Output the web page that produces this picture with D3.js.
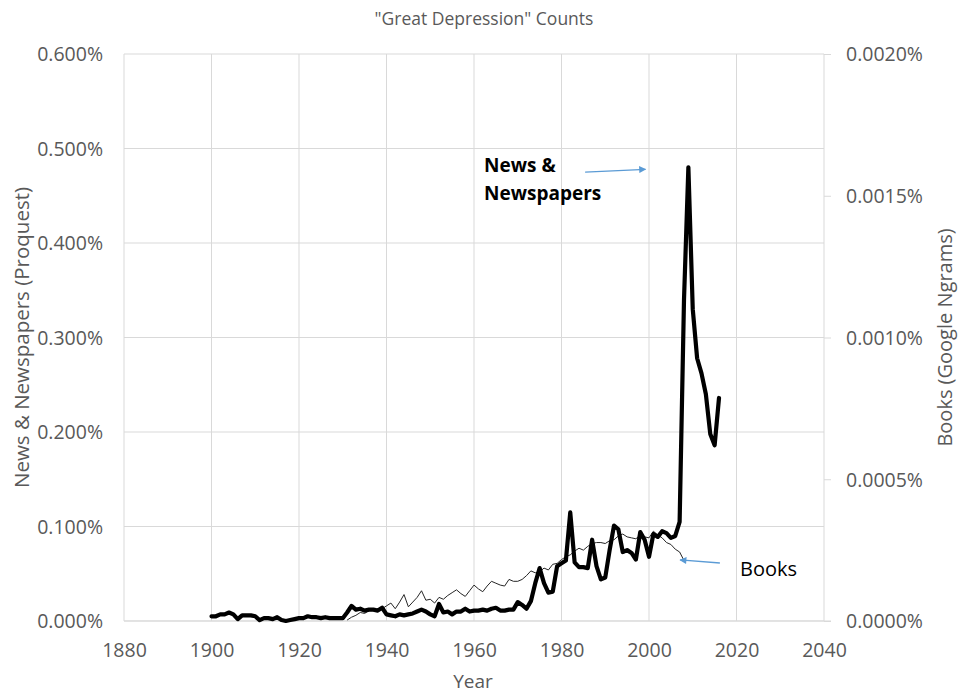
<!DOCTYPE html>
<html>
<head>
<meta charset="utf-8">
<script src="https://cdn.jsdelivr.net/npm/d3@7"></script>
<style>
  html, body { margin: 0; padding: 0; background: #fff; }
  svg { display: block; font-family: "Open Sans", "Noto Sans", sans-serif; }
</style>
</head>
<body>
<svg id="chart" width="959" height="694"></svg>
<script>
// ---- data ----
const newsYears = d3.range(1900, 2017);
const newsValues = [ // % of articles (left axis), 1900..2016
  0.005,0.005,0.007,0.007,0.009,0.007,0.002,0.006,0.006,0.006,
  0.005,0.001,0.003,0.003,0.002,0.004,0.001,0.000,0.001,0.002,
  0.003,0.003,0.005,0.004,0.004,0.003,0.004,0.003,0.003,0.003,
  0.003,0.009,0.016,0.012,0.013,0.011,0.012,0.012,0.011,0.014,
  0.007,0.006,0.005,0.007,0.006,0.007,0.008,0.010,0.012,0.010,
  0.007,0.005,0.018,0.009,0.010,0.007,0.010,0.010,0.013,0.010,
  0.011,0.011,0.012,0.011,0.013,0.014,0.011,0.011,0.012,0.012,
  0.020,0.017,0.013,0.021,0.040,0.056,0.040,0.030,0.031,0.058,
  0.061,0.064,0.115,0.062,0.057,0.057,0.056,0.086,0.058,0.044,
  0.046,0.075,0.101,0.097,0.073,0.075,0.072,0.065,0.094,0.086,
  0.068,0.092,0.089,0.095,0.093,0.088,0.090,0.105,0.340,0.480,
  0.330,0.278,0.262,0.240,0.198,0.186,0.236
];
const bookYears = d3.range(1931, 2009);
const bookValues = [ // % of words (right axis), 1931..2008
  0.0000033,0.0000133,0.0000200,0.0000300,0.0000267,0.0000367,0.0000367,0.0000400,0.0000433,
  0.0000533,0.0000633,0.0000433,0.0000667,0.0000933,0.0000500,0.0000667,0.0000833,0.0001067,0.0000733,
  0.0000767,0.0000633,0.0000833,0.0000767,0.0000900,0.0001000,0.0001100,0.0000967,0.0000867,0.0001067,
  0.0001267,0.0001133,0.0001033,0.0001233,0.0001400,0.0001333,0.0001267,0.0001233,0.0001467,0.0001400,
  0.0001400,0.0001467,0.0001600,0.0001767,0.0001700,0.0001733,0.0001867,0.0001800,0.0002000,0.0002033,
  0.0002167,0.0002267,0.0002333,0.0002467,0.0002567,0.0002500,0.0002633,0.0002733,0.0002767,0.0002767,
  0.0002733,0.0002833,0.0002867,0.0003000,0.0003067,0.0002967,0.0002933,0.0002900,0.0003033,0.0002967,
  0.0002933,0.0003167,0.0003033,0.0002933,0.0002767,0.0002700,0.0002533,0.0002433,0.0002133
];
const xTicks = [1880,1900,1920,1940,1960,1980,2000,2020,2040];
const leftTicks = [0,0.1,0.2,0.3,0.4,0.5,0.6];
const rightTicks = [0,0.0005,0.0010,0.0015,0.0020];
const title = '"Great Depression" Counts';
const xTitle = "Year";
const leftTitle = "News & Newspapers (Proquest)";
const rightTitle = "Books (Google Ngrams)";
const newsLabel = ["News &", "Newspapers"];
const booksLabel = "Books";

// ---- layout ----
const svg = d3.select("#chart");
const L = 124, R = 824, T = 54, B = 621;
const x = d3.scaleLinear().domain([1880, 2040]).range([L, R]);
const yL = d3.scaleLinear().domain([0, 0.6]).range([B, T]);
const yR = d3.scaleLinear().domain([0, 0.002]).range([B, T]);
const grey = "#595959", gridC = "#d9d9d9";

// gridlines
svg.append("g").selectAll("line").data(leftTicks).join("line")
  .attr("x1", L).attr("x2", R)
  .attr("y1", d => yL(d)).attr("y2", d => yL(d))
  .attr("stroke", gridC).attr("stroke-width", 1);
svg.append("g").selectAll("line").data(xTicks).join("line")
  .attr("x1", d => x(d)).attr("x2", d => x(d))
  .attr("y1", T).attr("y2", B)
  .attr("stroke", gridC).attr("stroke-width", 1);

// axes
const fmtL = d => d3.format(".3f")(d) + "%";
const fmtR = d => d3.format(".4f")(d) + "%";
const gx = svg.append("g").attr("transform", `translate(0,${B})`)
  .call(d3.axisBottom(x).tickValues(xTicks).tickFormat(d3.format("d")).tickSize(0).tickPadding(20));
const gl = svg.append("g").attr("transform", `translate(${L},0)`)
  .call(d3.axisLeft(yL).tickValues(leftTicks).tickFormat(fmtL).tickSize(0).tickPadding(21));
const gr = svg.append("g").attr("transform", `translate(${R},0)`)
  .call(d3.axisRight(yR).tickValues(rightTicks).tickFormat(fmtR).tickSize(7).tickPadding(15));
[gx, gl, gr].forEach(g => {
  g.select(".domain").remove();
  g.selectAll("text").attr("fill", grey).style("font-size", "19.5px").style("font-family", '"Open Sans", sans-serif');
  g.selectAll("line").attr("stroke", gridC);
});
gx.selectAll("text").attr("dy", "0.32em").attr("y", 30);
gl.selectAll("text").attr("dy", "0.35em");
gr.selectAll("text").attr("dy", "0.35em");

// bottom axis line
svg.append("line").attr("x1", L).attr("x2", R + 7).attr("y1", B).attr("y2", B)
  .attr("stroke", gridC);

// lines
const newsData = newsYears.map((y, i) => ({ year: y, v: newsValues[i] }));
const bookData = bookYears.map((y, i) => ({ year: y, v: bookValues[i] }));
svg.append("path").datum(bookData)
  .attr("fill", "none").attr("stroke", "#262626").attr("stroke-width", 1)
  .attr("stroke-linejoin", "round")
  .attr("d", d3.line().x(d => x(d.year)).y(d => yR(d.v)));
svg.append("path").datum(newsData)
  .attr("fill", "none").attr("stroke", "#000").attr("stroke-width", 4.2)
  .attr("stroke-linejoin", "round").attr("stroke-linecap", "round")
  .attr("d", d3.line().x(d => x(d.year)).y(d => yL(d.v)));

// titles
svg.append("text").attr("x", 484).attr("y", 25).attr("text-anchor", "middle")
  .attr("fill", grey).style("font-size", "17.5px").text(title);
svg.append("text").attr("x", (L + R) / 2 - 1).attr("y", 688).attr("text-anchor", "middle")
  .attr("fill", grey).style("font-size", "19px").text(xTitle);
svg.append("text").attr("transform", `translate(29,${(T + B) / 2}) rotate(-90)`)
  .attr("text-anchor", "middle").attr("fill", grey).style("font-size", "20.5px").text(leftTitle);
svg.append("text").attr("transform", `translate(952,${(T + B) / 2}) rotate(-90)`)
  .attr("text-anchor", "middle").attr("fill", grey).style("font-size", "20px").text(rightTitle);

// annotations
const blue = "#5B9BD5";
const defs = svg.append("defs");
defs.append("marker").attr("id", "arr").attr("viewBox", "0 0 10 10")
  .attr("refX", 9).attr("refY", 5).attr("markerWidth", 8).attr("markerHeight", 7)
  .attr("orient", "auto-start-reverse").attr("markerUnits", "userSpaceOnUse")
  .append("path").attr("d", "M0,0 L10,5 L0,10 z").attr("fill", blue);
svg.append("line")
  .attr("x1", x(1985.4)).attr("y1", yL(0.475))
  .attr("x2", x(1999.2)).attr("y2", yL(0.478))
  .attr("stroke", blue).attr("stroke-width", 1.3).attr("marker-end", "url(#arr)");
svg.append("line")
  .attr("x1", x(2016.2)).attr("y1", yL(0.0614))
  .attr("x2", x(2007.1)).attr("y2", yL(0.0646))
  .attr("stroke", blue).attr("stroke-width", 1.3).attr("marker-end", "url(#arr)");
const nl = svg.append("text")
  .attr("fill", "#000").style("font-size", "19px").style("font-weight", "bold");
nl.selectAll("tspan").data(newsLabel).join("tspan")
  .attr("x", x(1962.3))
  .attr("y", (d, i) => yL(0.475) + i * 28)
  .text(d => d);
svg.append("text").attr("x", x(2020.8)).attr("y", yL(0.0475))
  .attr("fill", "#000").style("font-size", "20px").text(booksLabel);
</script>
</body>
</html>
